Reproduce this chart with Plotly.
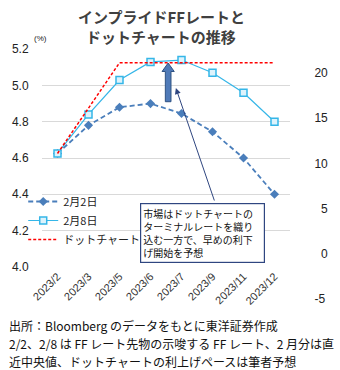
import plotly.graph_objects as go

categories = ["2023/2", "2023/3", "2023/5", "2023/6", "2023/7", "2023/9", "2023/11", "2023/12"]
feb2 = [4.625, 4.78, 4.88, 4.90, 4.845, 4.745, 4.60, 4.40]
feb8 = [4.625, 4.84, 5.03, 5.13, 5.14, 5.07, 4.96, 4.80]
dot_chart = [4.625, 4.875, 5.125, 5.125, 5.125, 5.125, 5.125, 5.125]
left_ticks = [4.0, 4.2, 4.4, 4.6, 4.8, 5.0, 5.2]
right_ticks = [-5, 0, 5, 10, 15, 20]

W, H = 340, 370
ML, MR, MT, MB = 42, 34, 49, 65
PW, PH = W - ML - MR, H - MT - MB


def px(x):
    return (x - ML) / PW


def py(y):
    return (H - MB - y) / PH


FONT_NUM = "Liberation Sans, Arial, Noto Sans CJK JP"
FONT_JP = "Noto Sans CJK JP, sans-serif"

fig = go.Figure()
fig.add_trace(go.Scatter(
    x=categories, y=feb2, name="2月2日", mode="lines+markers",
    line=dict(color="#4A7EBB", width=1.8, dash="5px,3px"),
    marker=dict(symbol="diamond", size=7, color="#4A7EBB"),
))
fig.add_trace(go.Scatter(
    x=categories, y=feb8, name="2月8日", mode="lines+markers",
    line=dict(color="#35B6E8", width=1.2),
    marker=dict(symbol="square", size=7, color="#DDF3FC",
                line=dict(color="#35B6E8", width=1.5)),
))
fig.add_trace(go.Scatter(
    x=categories, y=dot_chart, name="ドットチャート", mode="lines",
    line=dict(color="#FF0000", width=1.5, dash="3px,2px"),
))
# empty trace so that the secondary axis is drawn
fig.add_trace(go.Scatter(x=[], y=[], yaxis="y2", showlegend=False, hoverinfo="skip"))

y_bottom_domain = (H - MB - 267) / PH

fig.update_layout(
    width=W, height=H,
    margin=dict(l=ML, r=MR, t=MT, b=MB),
    paper_bgcolor="white", plot_bgcolor="rgba(0,0,0,0)",
    font=dict(family=FONT_JP, color="#333"),
    showlegend=True,
    legend=dict(
        x=px(22), y=py(187), xanchor="left", yanchor="top",
        bgcolor="rgba(0,0,0,0)", font=dict(size=11, family=FONT_JP, color="#222"),
        itemwidth=30, tracegroupgap=0,
    ),
    xaxis=dict(
        type="category", categoryorder="array", categoryarray=categories,
        range=[-0.5, len(categories) - 0.5], showgrid=False, showline=False,
        zeroline=False, tickangle=-45, ticks="",
        tickfont=dict(size=11, family=FONT_NUM, color="#333"),
        anchor="y", domain=[0, 1],
    ),
    yaxis=dict(
        domain=[y_bottom_domain, 1], range=[3.999, 5.201],
        tickvals=left_ticks, ticktext=[f"{v:.1f}" for v in left_ticks],
        showgrid=True, gridcolor="#D9D9D9", gridwidth=1.3,
        zeroline=False, showline=False,
        ticks="outside", ticklen=10, tickcolor="rgba(0,0,0,0)",
        tickfont=dict(size=12, family=FONT_NUM, color="#222"),
    ),
    yaxis2=dict(
        anchor="free", position=1, side="right", domain=[0, 1],
        range=[-5.66, 22.65],
        tickvals=right_ticks,
        ticktext=[str(v).rjust(2, "\u2007") for v in right_ticks],
        showgrid=False, zeroline=False, showline=False,
        ticks="outside", ticklen=21, tickcolor="rgba(0,0,0,0)",
        tickfont=dict(size=12, family=FONT_NUM, color="#222"),
    ),
)

# white patch behind the legend hiding the gridline (like the reference legend box)
fig.add_shape(type="rect", xref="paper", yref="paper", layer="between",
              x0=px(42.5), x1=px(143), y0=py(244), y1=py(226),
              fillcolor="white", line=dict(width=0))

# title (two lines)
fig.add_annotation(text="<b>インプライドFFレートと</b>", xref="paper", yref="paper",
                   x=px(169), y=py(16.5), showarrow=False, xanchor="center", yanchor="middle",
                   font=dict(size=15, color="#404040", family=FONT_JP))
fig.add_annotation(text="<b>ドットチャートの推移</b>", xref="paper", yref="paper",
                   x=px(169), y=py(36), showarrow=False, xanchor="center", yanchor="middle",
                   font=dict(size=15, color="#404040", family=FONT_JP))
# unit
fig.add_annotation(text="(%)", xref="paper", yref="paper", x=px(40.5), y=py(38),
                   showarrow=False, xanchor="center", yanchor="middle",
                   font=dict(size=8, color="#222", family=FONT_NUM))

# commentary box
fig.add_annotation(
    text="市場はドットチャートの<br>ターミナルレートを織り<br>込む一方で、早めの利下<br>げ開始を予想",
    xref="paper", yref="paper", x=px(212.5), y=py(233), showarrow=False,
    xanchor="center", yanchor="middle",
    align="left", width=119, height=54, borderpad=2,
    bordercolor="#2F4680", borderwidth=1.2, bgcolor="white",
    font=dict(size=10, color="#111", family=FONT_JP),
)
# thin arrow from box
fig.add_annotation(
    text="", xref="paper", yref="paper", x=px(184.5), y=py(88),
    ax=39, ay=114, axref="pixel", ayref="pixel", showarrow=True,
    arrowhead=2, arrowsize=1.2, arrowwidth=1, arrowcolor="#2F4680",
)

# thick upward arrow
pts = [(173.3, 101.7), (179.3, 101.7), (179.3, 71.5), (182.8, 71.5),
       (176.3, 63.0), (169.8, 71.5), (173.3, 71.5)]
path = "M " + " L ".join(f"{px(a):.4f},{py(b):.4f}" for a, b in pts) + " Z"
fig.add_shape(type="path", path=path, xref="paper", yref="paper",
              fillcolor="#4F7AB8", line=dict(color="#2F5283", width=1))

# footer
footer = [
    "出所：Bloomberg のデータをもとに東洋証券作成",
    "2/2、2/8 は FF レート先物の示唆する FF レート、2 月分は直",
    "近中央値、ドットチャートの利上げペースは筆者予想",
]
for i, line in enumerate(footer):
    fig.add_annotation(text=line, xref="paper", yref="paper", x=px(5), y=py(325 + 18 * i),
                       xanchor="left", yanchor="middle", showarrow=False,
                       font=dict(size=12, color="#111", family=FONT_JP))

fig.write_html("out.html")
